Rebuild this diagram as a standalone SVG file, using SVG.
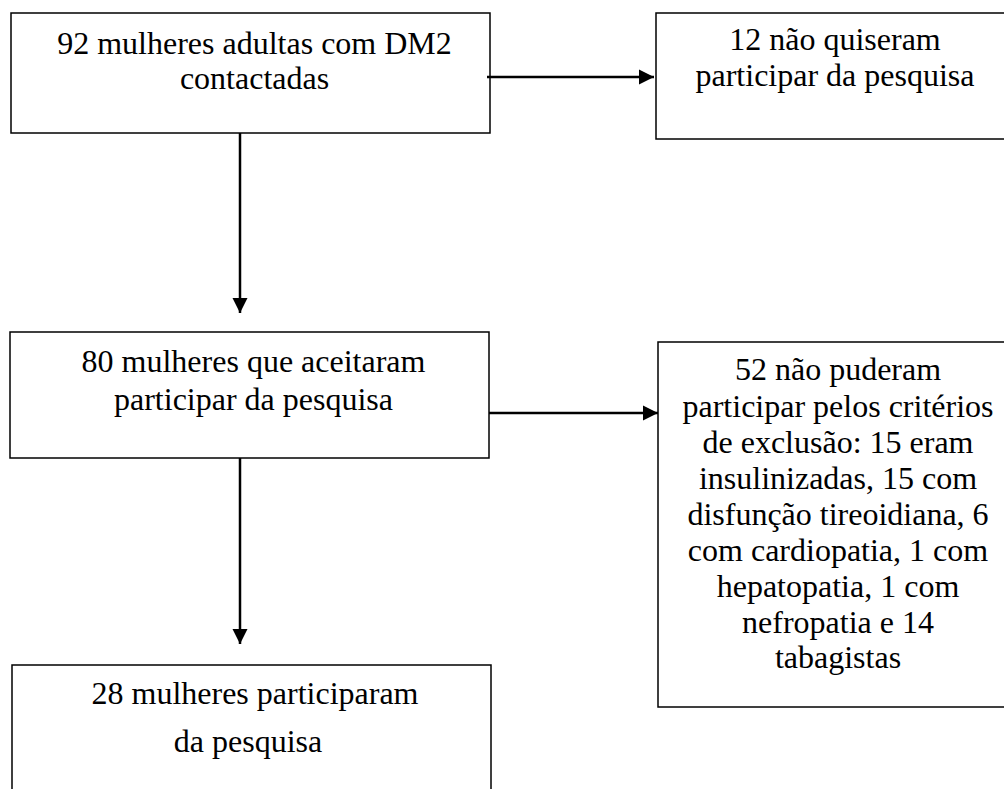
<svg xmlns="http://www.w3.org/2000/svg" width="1004" height="789" viewBox="0 0 1004 789">
<style>
.box{fill:#fff;stroke:#000;stroke-width:1.5}
.t{font-family:"Liberation Serif","Times New Roman",serif;font-size:32px;fill:#000;text-anchor:middle}
.c{stroke:#000;stroke-width:2.5;fill:none}
</style>
<defs>
<marker id="ah" markerUnits="userSpaceOnUse" markerWidth="16" markerHeight="16" refX="15" refY="8" orient="auto">
<path d="M0,0.5 L15,8 L0,15.5 Z" fill="#000"/>
</marker>
</defs>
<rect width="1004" height="789" fill="#fff"/>
<g id="n1"><rect class="box" x="11" y="13" width="479" height="120"/>
<text class="t" x="254.5" y="54">92 mulheres adultas com DM2</text>
<text class="t" x="254.5" y="89">contactadas</text></g>
<g id="n2"><rect class="box" x="656" y="13" width="360" height="126"/>
<text class="t" x="835" y="50">12 não quiseram</text>
<text class="t" x="835" y="86">participar da pesquisa</text></g>
<g id="n3"><rect class="box" x="10" y="332" width="479" height="126"/>
<text class="t" x="253.5" y="372">80 mulheres que aceitaram</text>
<text class="t" x="253.5" y="410">participar da pesquisa</text></g>
<g id="n4"><rect class="box" x="658" y="342" width="360" height="365"/>
<text class="t" x="838" y="380">52 não puderam</text>
<text class="t" x="838" y="417">participar pelos critérios</text>
<text class="t" x="838" y="453">de exclusão: 15 eram</text>
<text class="t" x="838" y="489">insulinizadas, 15 com</text>
<text class="t" x="838" y="525">disfunção tireoidiana, 6</text>
<text class="t" x="838" y="561">com cardiopatia, 1 com</text>
<text class="t" x="838" y="597">hepatopatia, 1 com</text>
<text class="t" x="838" y="633">nefropatia e 14</text>
<text class="t" x="838" y="668">tabagistas</text></g>
<g id="n5"><rect class="box" x="12" y="665" width="479" height="140"/>
<text class="t" x="255" y="704">28 mulheres participaram</text>
<text class="t" x="248" y="752">da pesquisa</text></g>
<g id="connectors">
<line class="c" x1="487" y1="77" x2="654" y2="77" marker-end="url(#ah)"/>
<line class="c" x1="240" y1="133" x2="240" y2="313" marker-end="url(#ah)"/>
<line class="c" x1="489" y1="413" x2="658" y2="413" marker-end="url(#ah)"/>
<line class="c" x1="240" y1="458" x2="240" y2="644" marker-end="url(#ah)"/>
</g>
</svg>
